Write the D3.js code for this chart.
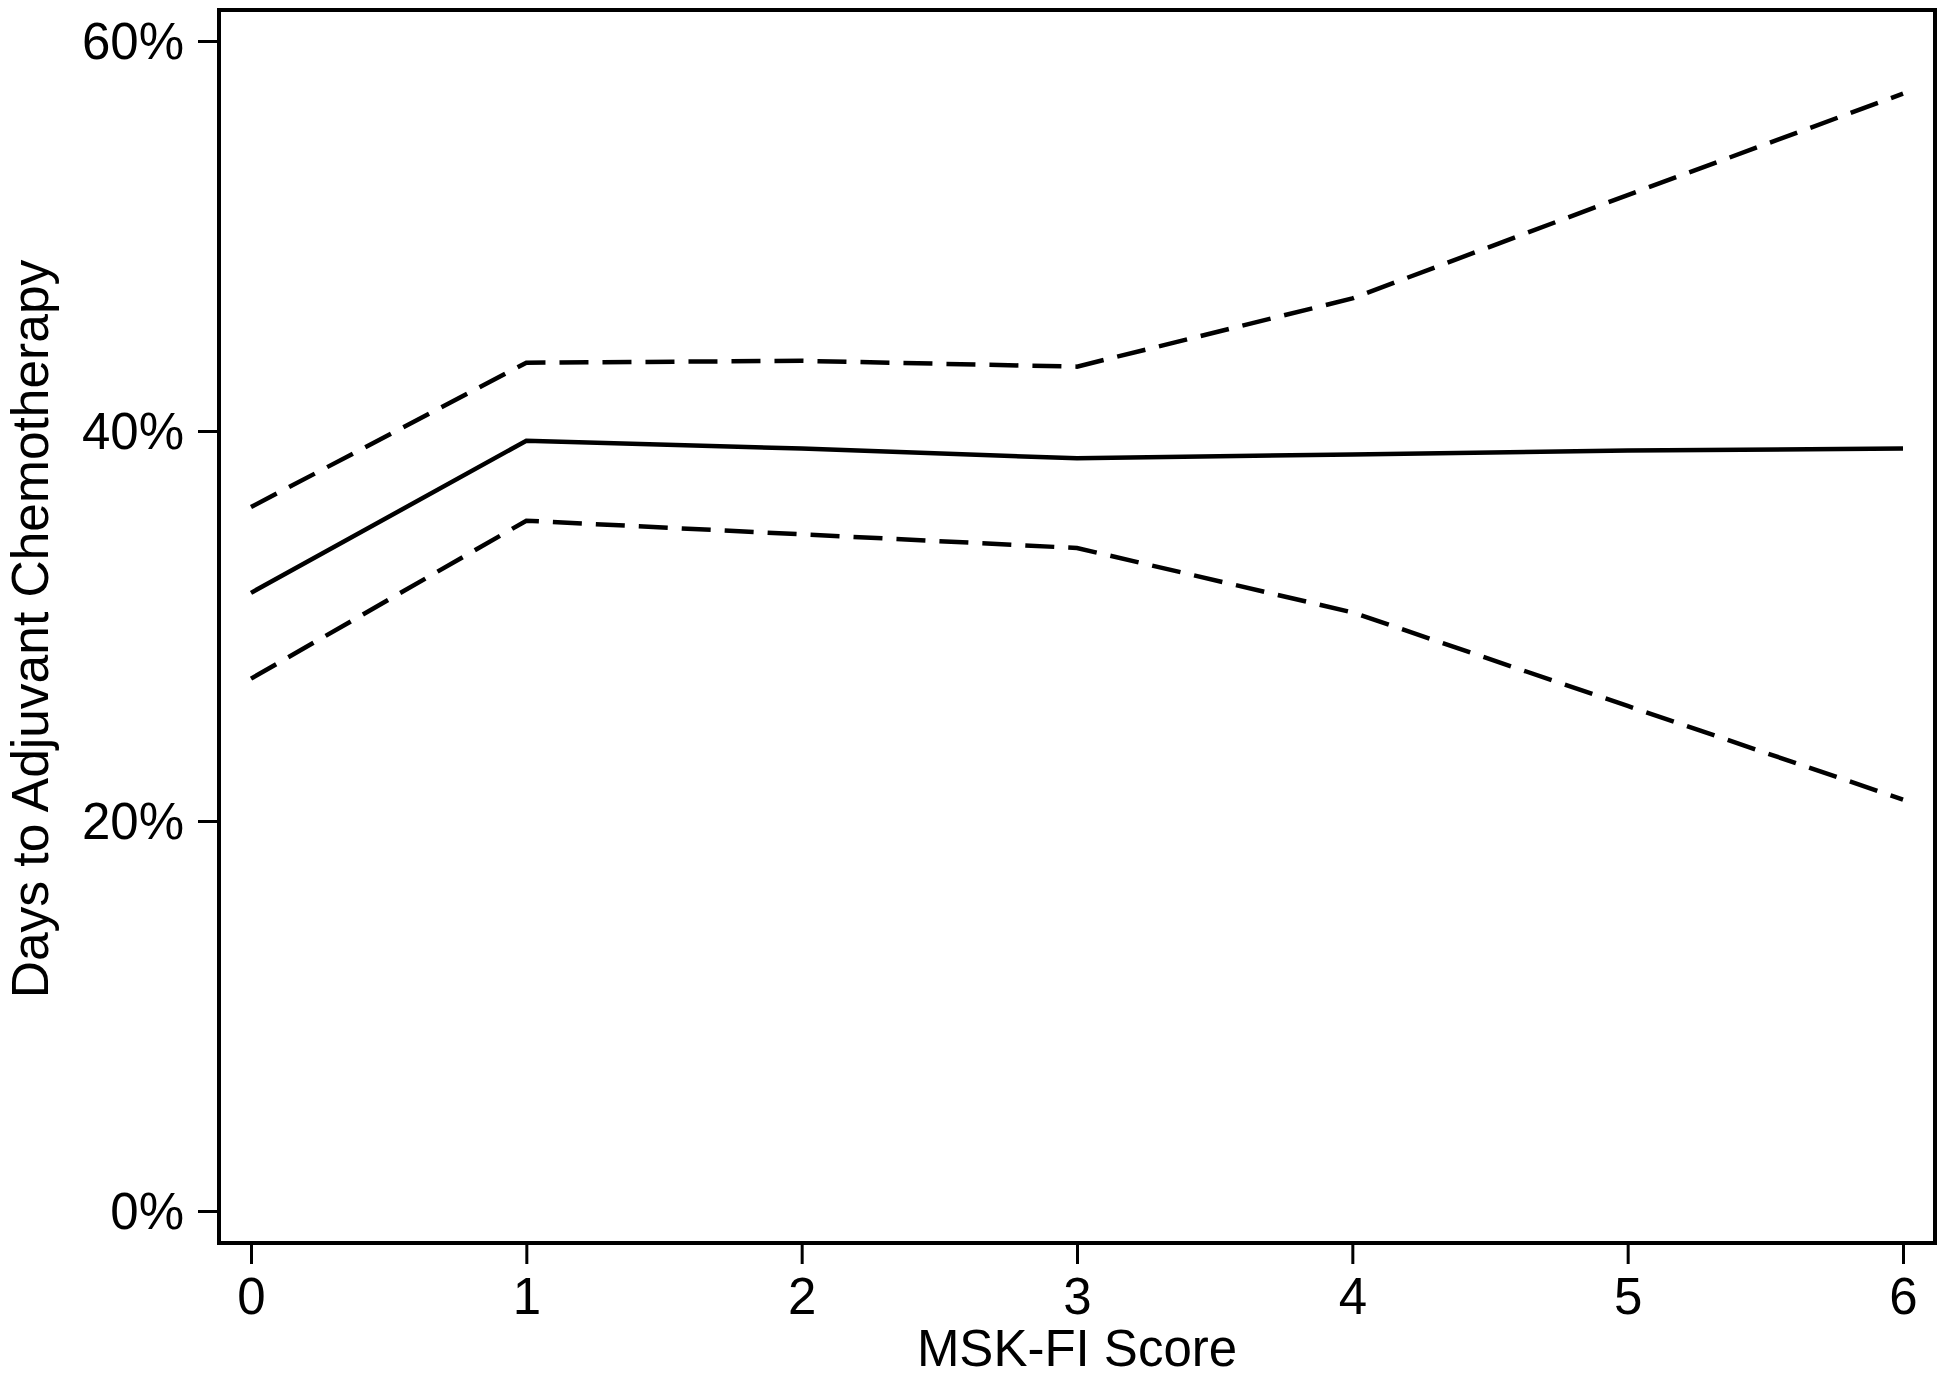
<!DOCTYPE html>
<html>
<head>
<meta charset="utf-8">
<script src="https://cdn.jsdelivr.net/npm/d3@7"></script>
<style>
  html, body { margin: 0; padding: 0; background: #fff; }
  svg { display: block; }
  text { font-family: "Liberation Sans", Arial, Helvetica, sans-serif; fill: #000; }
</style>
</head>
<body>
<script>
// ---- data ----
const scores = [0, 1, 2, 3, 4, 5, 6];
const estimate = [0.317, 0.395, 0.391, 0.386, 0.388, 0.390, 0.391];
const upperCI  = [0.361, 0.435, 0.436, 0.433, 0.468, 0.521, 0.573];
const lowerCI  = [0.273, 0.354, 0.347, 0.340, 0.307, 0.259, 0.211];
const yTicks = [0, 0.2, 0.4, 0.6];
const xTicks = [0, 1, 2, 3, 4, 5, 6];
const xTitle = "MSK-FI Score";
const yTitle = "Days to Adjuvant Chemotherapy";

// ---- layout ----
const W = 1950, H = 1378;
const frame = { left: 219, right: 1935, top: 10, bottom: 1243 };

const svg = d3.select("body").append("svg")
  .attr("width", W).attr("height", H);

const x = d3.scaleLinear().domain([0, 6]).range([251, 1903]);
const y = d3.scaleLinear().domain([0, 0.6]).range([1211, 41]);

// frame
svg.append("rect")
  .attr("x", frame.left).attr("y", frame.top)
  .attr("width", frame.right - frame.left)
  .attr("height", frame.bottom - frame.top)
  .attr("fill", "none").attr("stroke", "#000").attr("stroke-width", 4);

// y axis
const yAxis = svg.append("g")
  .attr("transform", `translate(${frame.left},0)`)
  .call(d3.axisLeft(y).tickValues(yTicks).tickFormat(d3.format(".0%"))
        .tickSize(21).tickPadding(14));
yAxis.select(".domain").remove();
yAxis.selectAll(".tick line").attr("stroke", "#000").attr("stroke-width", 3);
yAxis.selectAll(".tick text").attr("font-size", 51)
  .attr("font-family", "'Liberation Sans', Arial, sans-serif").attr("dy", "0.35em");

// x axis
const xAxis = svg.append("g")
  .attr("transform", `translate(0,${frame.bottom})`)
  .call(d3.axisBottom(x).tickValues(xTicks).tickFormat(d3.format("d"))
        .tickSize(21).tickPadding(14));
xAxis.select(".domain").remove();
xAxis.selectAll(".tick line").attr("stroke", "#000").attr("stroke-width", 3);
xAxis.selectAll(".tick text").attr("font-size", 51)
  .attr("font-family", "'Liberation Sans', Arial, sans-serif");

// titles
svg.append("text")
  .attr("x", 1077).attr("y", 1366)
  .attr("text-anchor", "middle")
  .attr("font-size", 51)
  .text(xTitle);

svg.append("text")
  .attr("transform", `translate(48,629) rotate(-90)`)
  .attr("text-anchor", "middle")
  .attr("font-size", 51.5)
  .text(yTitle);

// lines
const line = d3.line().x((d, i) => x(scores[i])).y(d => y(d));

svg.append("path").datum(upperCI)
  .attr("d", line).attr("fill", "none").attr("stroke", "#000")
  .attr("stroke-width", 4.5).attr("stroke-dasharray", "29,14");

svg.append("path").datum(lowerCI)
  .attr("d", line).attr("fill", "none").attr("stroke", "#000")
  .attr("stroke-width", 4.5).attr("stroke-dasharray", "29,14");

svg.append("path").datum(estimate)
  .attr("d", line).attr("fill", "none").attr("stroke", "#000")
  .attr("stroke-width", 4.5);
</script>
</body>
</html>
